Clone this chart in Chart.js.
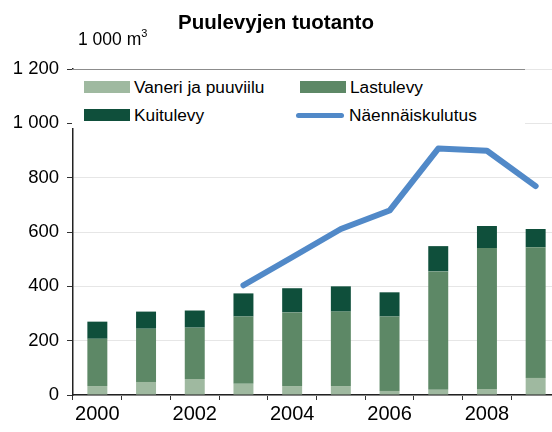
<!DOCTYPE html>
<html>
<head>
<meta charset="utf-8">
<script src="https://cdn.jsdelivr.net/npm/chart.js@4.4.1/dist/chart.umd.min.js"></script>
<style>
  html, body { margin: 0; padding: 0; background: #fff; overflow: hidden; }
  body { width: 552px; height: 432px; position: relative; font-family: "Liberation Sans", Arial, sans-serif; }
  #wrap { position: absolute; left: 0; top: 0; width: 562px; height: 428px; }
  #title { position: absolute; left: 0; width: 552px; top: 10px; text-align: center; font-weight: bold; font-size: 20.5px; color: #000; }
  #unit { position: absolute; left: 78px; top: 28px; font-size: 17.5px; color: #000; }
  #unit sup { font-size: 11px; position: relative; top: -1px; }
  #legend { position: absolute; left: 72px; top: 69px; width: 453px; height: 58px; background: #fff; border-top: 1px solid #8c8c8c; }
  .item { position: absolute; font-size: 17.3px; color: #000; line-height: 20px; }
  .sw { position: absolute; width: 46px; height: 12px; }
  .ln { position: absolute; width: 48px; height: 5px; border-radius: 3px; }
</style>
</head>
<body>
<div id="wrap"><canvas id="chart" width="562" height="428"></canvas></div>
<div id="title">Puulevyjen tuotanto</div>
<div id="unit">1 000 m<sup>3</sup></div>
<div id="legend"></div>
<script>
// Data
const years = ['2000', '2001', '2002', '2003', '2004', '2005', '2006', '2007', '2008', '2009'];
const vaneri = [33, 48, 59, 41, 33, 33, 15, 19, 22, 63];
const lastulevy = [174, 196, 189, 248, 271, 274, 274, 436, 519, 481];
const kuitulevy = [63, 63, 63, 85, 89, 93, 89, 93, 81, 67];
const kulutus = [null, null, null, 404, 507, 611, 679, 907, 899, 769];
const yTicks = [0, 200, 400, 600, 800, 1000, 1200];

const colors = {
  vaneri: '#9fb9a0',
  lastu: '#5d8866',
  kuitu: '#0f4f3b',
  line: '#5189c8'
};

// Legend (HTML so it can sit over the plot with a white box)
function buildLegend() {
  const legend = document.getElementById('legend');
  const items = [
    { label: 'Vaneri ja puuviilu', color: colors.vaneri, x: 12, y: 11, type: 'box' },
    { label: 'Lastulevy', color: colors.lastu, x: 228, y: 11, type: 'box' },
    { label: 'Kuitulevy', color: colors.kuitu, x: 12, y: 39, type: 'box' },
    { label: 'Näennäiskulutus', color: colors.line, x: 224, y: 39, type: 'line' }
  ];
  items.forEach(it => {
    const mark = document.createElement('div');
    if (it.type === 'box') {
      mark.className = 'sw';
      mark.style.left = it.x + 'px';
      mark.style.top = (it.y) + 'px';
    } else {
      mark.className = 'ln';
      mark.style.left = it.x + 'px';
      mark.style.top = (it.y + 4) + 'px';
    }
    mark.style.background = it.color;
    legend.appendChild(mark);

    const txt = document.createElement('div');
    txt.className = 'item';
    txt.textContent = it.label;
    txt.style.left = (it.x + (it.type === 'box' ? 50 : 53)) + 'px';
    txt.style.top = (it.y - 4) + 'px';
    legend.appendChild(txt);
  });
}

function formatNum(v) {
  return String(v).replace(/\B(?=(\d{3})+(?!\d))/g, ' ');
}

buildLegend();

const ctx = document.getElementById('chart');
new Chart(ctx, {
  type: 'bar',
  data: {
    labels: years,
    datasets: [
      {
        type: 'line',
        label: 'Näennäiskulutus',
        data: kulutus,
        borderColor: colors.line,
        borderWidth: 6,
        borderCapStyle: 'round',
        borderJoinStyle: 'round',
        pointRadius: 0,
        tension: 0,
        fill: false,
        order: 0
      },
      { label: 'Vaneri ja puuviilu', data: vaneri, backgroundColor: colors.vaneri, stack: 's', order: 1 },
      { label: 'Lastulevy', data: lastulevy, backgroundColor: colors.lastu, stack: 's', order: 1 },
      { label: 'Kuitulevy', data: kuitulevy, backgroundColor: colors.kuitu, stack: 's', order: 1 }
    ]
  },
  options: {
    responsive: false,
    animation: false,
    events: [],
    barPercentage: 0.41,
    categoryPercentage: 1,
    layout: { padding: { top: 69, right: 2, bottom: 0, left: 0 } },
    plugins: {
      legend: { display: false },
      tooltip: { enabled: false }
    },
    scales: {
      x: {
        stacked: true,
        offset: true,
        grid: {
          offset: true,
          drawOnChartArea: false,
          tickLength: 5,
          tickColor: '#333',
          lineWidth: 1
        },
        border: { color: '#222', width: 1.5 },
        ticks: {
          autoSkip: false,
          maxRotation: 0,
          color: '#000',
          padding: 2,
          font: { family: 'Liberation Sans', size: 20 },
          callback: function(value, index) {
            return index % 2 === 0 ? years[index] : '';
          }
        }
      },
      y: {
        stacked: true,
        min: 0,
        max: 1200,
        afterFit: function(scale) { scale.width = 73; },
        afterBuildTicks: function(scale) {
          scale.ticks = yTicks.map(v => ({ value: v }));
        },
        grid: {
          color: '#e6e6e6',
          tickColor: '#333',
          tickLength: 6,
          lineWidth: 1
        },
        border: { color: '#222', width: 1.5 },
        ticks: {
          color: '#000',
          padding: 8,
          font: { family: 'Liberation Sans', size: 18.5 },
          callback: function(value) { return formatNum(value); }
        }
      }
    }
  }
});
</script>
</body>
</html>
